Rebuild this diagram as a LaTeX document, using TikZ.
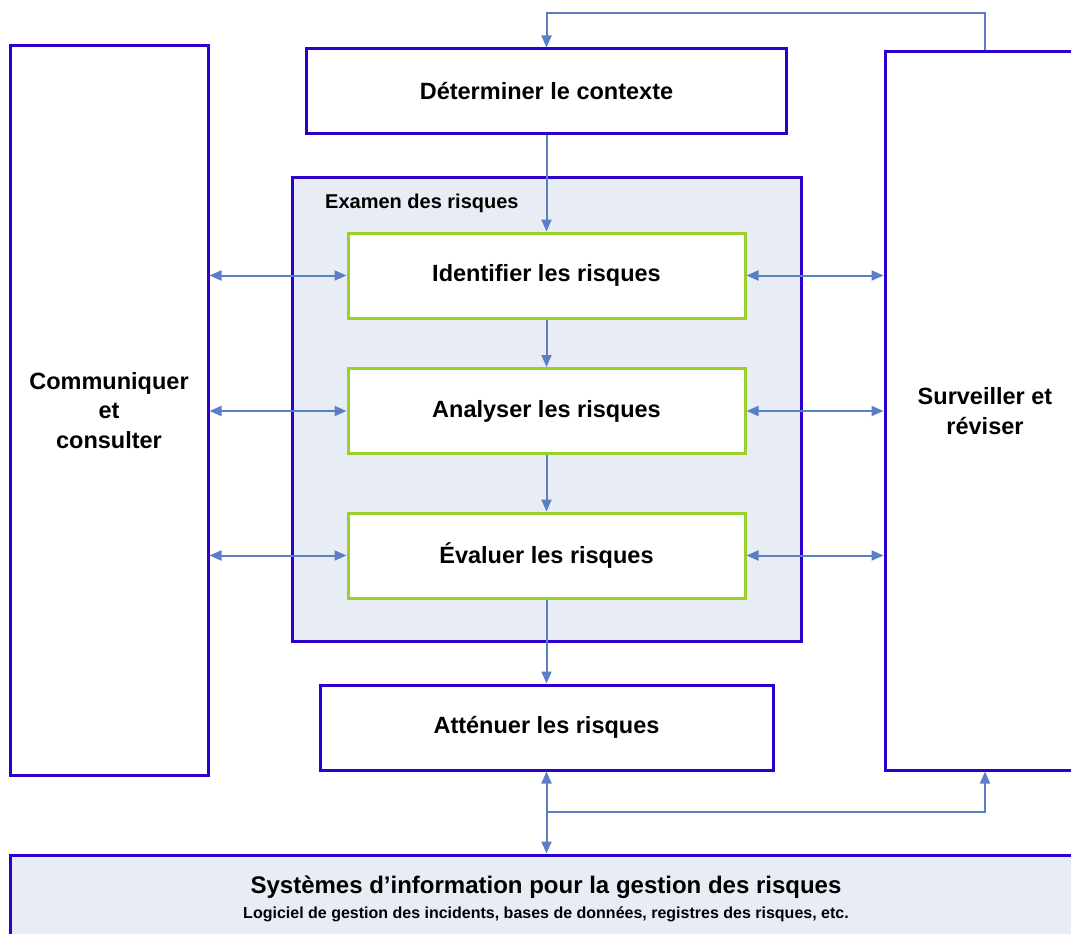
\documentclass[tikz,border=0pt]{standalone}
\usepackage{fontspec}
\setmainfont{Liberation Sans}
\usepackage{tikz}
\usetikzlibrary{arrows.meta,positioning,calc}
\usepackage{xcolor}
\definecolor{frameblue}{RGB}{46,0,204}
\definecolor{arrowblue}{RGB}{91,127,199}
\definecolor{stepgreen}{RGB}{153,209,42}
\definecolor{examfill}{RGB}{232,236,245}

\begin{document}
\begin{tikzpicture}[x=1pt, y=-1pt,
    bluebox/.style={rectangle, draw=frameblue, line width=3pt, fill=white, align=center, font=\fontsize{23.5}{29.5}\selectfont\bfseries, inner sep=0pt},
    greenbox/.style={bluebox, draw=stepgreen, minimum width=397pt, minimum height=85pt},
    arrow/.style={-{Triangle[length=12pt,width=10pt]}, draw=arrowblue, line width=2pt},
    darrow/.style={arrow, {Triangle[length=12pt,width=10pt]}-{Triangle[length=12pt,width=10pt]}}
]
\useasboundingbox (0,0) rectangle (1071,934);
\clip (0,0) rectangle (1071,934);

\node[bluebox, minimum width=198pt, minimum height=729pt] (comm) at (109,410.5) {Communiquer\\et\\consulter};
\node[bluebox, minimum width=200pt, minimum height=718pt] (surv) at (985,411) {Surveiller et\\réviser};
\node[bluebox, minimum width=480pt, minimum height=84pt] (ctx) at (546.5,91) {Déterminer le contexte};
\node[bluebox, fill=examfill, minimum width=509pt, minimum height=464pt] (exam) at (546.5,409) {};
\node[anchor=west, font=\fontsize{20}{22}\selectfont\bfseries, inner sep=0pt] (examlabel) at (325,203) {Examen des risques};
\node[greenbox] (ident) at (546.5,275.5) {Identifier les risques};
\node[greenbox] (analy) at (546.5,411) {Analyser les risques};
\node[greenbox] (evalu) at (546.5,555.5) {Évaluer les risques};
\node[bluebox, minimum width=453pt, minimum height=85pt] (atten) at (546.5,727.5) {Atténuer les risques};
\node[bluebox, fill=examfill, minimum width=1072pt, minimum height=88pt] (sys) at (546,899)
  {\fontsize{24}{26}\selectfont Systèmes d’information pour la gestion des risques\\[-4pt]
   \fontsize{16}{17}\selectfont Logiciel de gestion des incidents, bases de données, registres des risques, etc.};

% flux principal
\draw[arrow] (surv.north) -- ++(0,-37) -| (ctx.north);
\draw[arrow] (ctx) -- (ident);
\draw[arrow] (ident) -- (analy);
\draw[arrow] (analy) -- (evalu);
\draw[arrow] (evalu) -- (atten);

% communiquer / surveiller
\foreach \n in {ident,analy,evalu}{
  \draw[darrow] (comm.east |- \n.west) -- (\n.west);
  \draw[darrow] (\n.east) -- (surv.west |- \n.east);
}

% systemes d'information
\coordinate (split) at (546.5,812);
\draw[darrow] (atten.south) -- (atten.south |- sys.north);
\draw[arrow] (split) -| (surv.south);
\end{tikzpicture}
\end{document}
